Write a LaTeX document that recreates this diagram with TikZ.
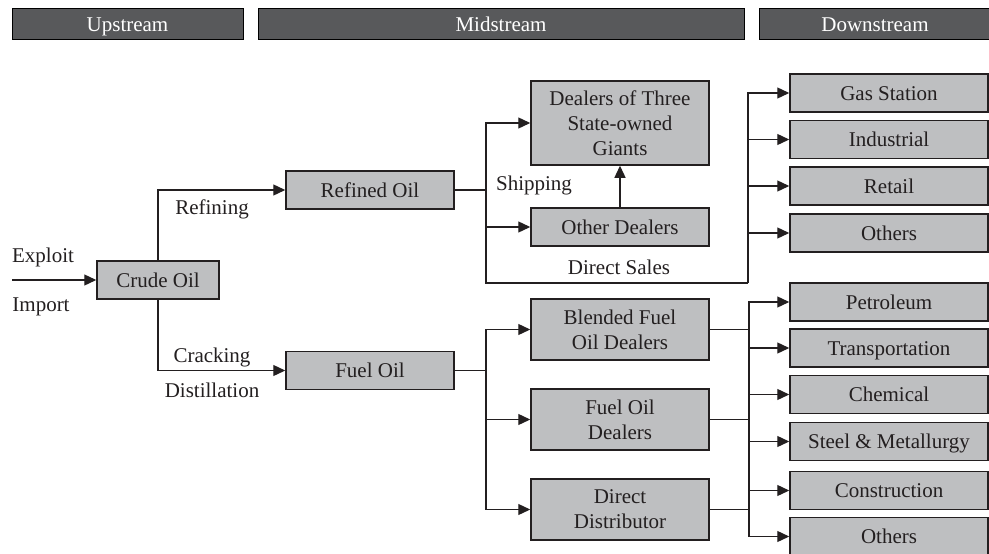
\documentclass[tikz,border=0pt]{standalone}
\usepackage{fontspec}
\setmainfont{Liberation Serif}
\usetikzlibrary{arrows.meta,positioning}
\definecolor{hdrgray}{RGB}{88,89,91}
\definecolor{boxgray}{RGB}{190,191,193}
\definecolor{linegray}{RGB}{35,31,32}

\begin{document}
\begin{tikzpicture}[x=1pt,y=-1pt,
    every node/.append style={font=\fontsize{21}{25}\selectfont,text=linegray},
    box/.style={draw=linegray,line width=1.5pt,fill=boxgray,inner sep=0pt,align=center,minimum height=38pt},
    one/.style={box,text height=15pt,text depth=1pt},
    hbar/.style={draw=black,line width=1pt,fill=hdrgray,text=white,minimum height=31pt,inner sep=0pt,
      text height=18pt,text depth=2pt},
    lbl/.style={anchor=base,inner sep=0pt},
    conn/.style={line width=1.3pt,draw=linegray},
    arr/.style={conn,-{Triangle[length=12pt,width=11pt]}}]
  \useasboundingbox (0,0) rectangle (989,554);

  % stage bars
  \node[hbar,minimum width=231pt] (up) at (127.5,23.5) {Upstream};
  \node[hbar,minimum width=486pt] (mid) at (501,23.5) {Midstream};
  \node[hbar,minimum width=232pt] (down) at (875,23.5) {Downstream};

  % crude and products
  \coordinate (src) at (12,280);
  \node[one,minimum width=122pt] (crude) at (158,280) {Crude Oil};
  \node[one,minimum width=168pt] (refined) at (370,190) {Refined Oil};
  \node[one,minimum width=168pt] (fuel) at (370,370.5) {Fuel Oil};

  % dealers
  \node[box,minimum width=178pt,minimum height=84pt] (three) at (620,123) {Dealers of Three\\State-owned\\Giants};
  \node[one,minimum width=178pt] (other) at (620,227) {Other Dealers};
  \node[box,minimum width=178pt,minimum height=61pt] (blended) at (620,329.5) {Blended Fuel\\Oil Dealers};
  \node[box,minimum width=178pt,minimum height=61pt] (fodealers) at (620,419.5) {Fuel Oil\\Dealers};
  \node[box,minimum width=178pt,minimum height=61pt] (direct) at (620,509.5) {Direct\\Distributor};

  % end users
  \foreach \n/\y/\t in {gas/93/Gas Station, indus/139.5/Industrial, retail/186/Retail, othersA/233/Others,
      petro/302/Petroleum, transp/348/Transportation, chem/394.5/Chemical,
      steel/441.5/Steel \& Metallurgy, constr/490.5/Construction, othersB/536.5/Others}
    \node[one,minimum width=198pt] (\n) at (889,\y) {\t};

  % labels
  \node[lbl] (exploit) at (43,262) {Exploit};
  \node[lbl] (import) at (41,311) {Import};
  \node[lbl] (refining) at (212,214) {Refining};
  \node[lbl] (cracking) at (212,362) {Cracking};
  \node[lbl] (distill) at (212,397) {Distillation};
  \node[lbl] (shipping) at (534,190) {Shipping};
  \node[lbl] (dsales) at (619,274) {Direct Sales};

  % connectors
  \draw[arr] (src) -- (crude);
  \draw[arr] (crude.north) |- (refined);
  \draw[arr] (crude.south) |- (fuel);

  \coordinate (rj) at (486,190);
  \coordinate (dj) at (748,283);
  \draw[conn] (refined) -- (rj);
  \draw[arr] (rj) |- (three);
  \draw[arr] (rj) |- (other);
  \draw[arr] (other) -- (three);
  \draw[conn] (rj) |- (dj);
  \foreach \t in {gas,indus,retail,othersA}
    \draw[arr] (dj) |- (\t);

  \coordinate (fj) at (486,370.5);
  \coordinate (cj) at (749,419.5);
  \draw[conn] (fuel) -- (fj);
  \foreach \t in {blended,fodealers,direct}
    \draw[arr] (fj) |- (\t);
  \foreach \s in {blended,fodealers,direct}
    \draw[conn] (\s.east) -- (\s.east -| cj);
  \foreach \t in {petro,transp,chem,steel,constr,othersB}
    \draw[arr] (cj) |- (\t);
\end{tikzpicture}
\end{document}
